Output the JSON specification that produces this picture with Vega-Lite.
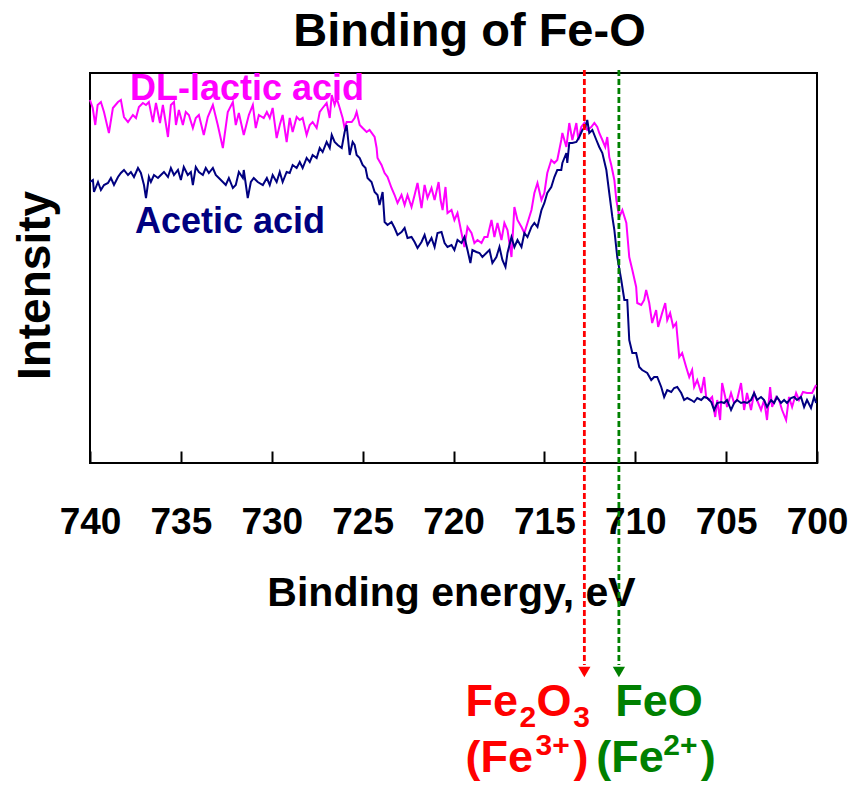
{
  "$schema": "https://vega.github.io/schema/vega-lite/v6.json",
  "width": 727,
  "height": 390,
  "autosize": {"type": "none"},
  "padding": {"left": 90, "top": 73, "right": 36, "bottom": 322},
  "background": "white",
  "config": {
    "font": "Liberation Sans",
    "view": {"stroke": "black", "strokeWidth": 2},
    "axisY": {
      "labels": false,
      "ticks": false,
      "domain": false,
      "grid": false,
      "titleFont": "Liberation Sans",
      "titleFontSize": 46,
      "titleFontWeight": "bold",
      "titleColor": "black",
      "titleX": -41,
      "titleY": 212,
      "titleBaseline": "alphabetic"
    }
  },
  "title": {
    "text": "Binding of Fe-O",
    "font": "Liberation Sans",
    "fontSize": 47,
    "fontWeight": "bold",
    "color": "black",
    "anchor": "middle",
    "frame": "group",
    "baseline": "alphabetic",
    "offset": 28,
    "dx": 16,
    "dy": 52
  },
  "datasets": {
    "lactic": [
      {"energy":740.0,"intensity":36.3},{"energy":739.85,"intensity":35.5},{"energy":739.71,"intensity":33.8},{"energy":739.58,"intensity":35.8},{"energy":739.40,"intensity":36.1},{"energy":739.23,"intensity":35.1},{"energy":738.96,"intensity":33.0},{"energy":738.74,"intensity":35.5},{"energy":738.46,"intensity":36.1},{"energy":738.30,"intensity":36.3},{"energy":738.13,"intensity":34.6},{"energy":737.91,"intensity":34.1},{"energy":737.64,"intensity":34.8},{"energy":737.47,"intensity":34.5},{"energy":737.31,"intensity":35.6},{"energy":737.09,"intensity":36.0},{"energy":736.92,"intensity":35.8},{"energy":736.76,"intensity":36.1},{"energy":736.54,"intensity":34.1},{"energy":736.37,"intensity":36.0},{"energy":736.15,"intensity":34.0},{"energy":735.99,"intensity":35.8},{"energy":735.71,"intensity":32.6},{"energy":735.55,"intensity":35.8},{"energy":735.38,"intensity":36.1},{"energy":735.27,"intensity":33.8},{"energy":735.11,"intensity":35.3},{"energy":734.89,"intensity":33.8},{"energy":734.73,"intensity":35.1},{"energy":734.56,"intensity":34.8},{"energy":734.34,"intensity":33.5},{"energy":734.18,"intensity":34.5},{"energy":734.01,"intensity":34.8},{"energy":733.74,"intensity":32.8},{"energy":733.52,"intensity":34.6},{"energy":733.24,"intensity":35.8},{"energy":732.97,"intensity":33.8},{"energy":732.69,"intensity":31.5},{"energy":732.42,"intensity":35.1},{"energy":732.14,"intensity":36.1},{"energy":731.98,"intensity":33.8},{"energy":731.81,"intensity":35.0},{"energy":731.54,"intensity":32.8},{"energy":731.26,"intensity":34.8},{"energy":731.04,"intensity":35.8},{"energy":730.88,"intensity":33.5},{"energy":730.71,"intensity":34.8},{"energy":730.44,"intensity":34.5},{"energy":730.27,"intensity":35.1},{"energy":730.11,"intensity":34.5},{"energy":729.95,"intensity":35.5},{"energy":729.73,"intensity":32.5},{"energy":729.56,"intensity":33.8},{"energy":729.40,"intensity":34.8},{"energy":729.18,"intensity":32.1},{"energy":729.01,"intensity":34.5},{"energy":728.85,"intensity":33.1},{"energy":728.63,"intensity":34.6},{"energy":728.46,"intensity":34.3},{"energy":728.30,"intensity":34.5},{"energy":728.08,"intensity":32.8},{"energy":727.91,"intensity":33.8},{"energy":727.75,"intensity":34.1},{"energy":727.53,"intensity":33.5},{"energy":727.36,"intensity":35.1},{"energy":727.20,"intensity":35.5},{"energy":726.98,"intensity":36.0},{"energy":726.81,"intensity":34.5},{"energy":726.70,"intensity":36.8},{"energy":726.54,"intensity":35.8},{"energy":726.43,"intensity":36.5},{"energy":726.26,"intensity":35.5},{"energy":726.10,"intensity":34.5},{"energy":725.99,"intensity":33.5},{"energy":725.88,"intensity":34.1},{"energy":725.60,"intensity":34.1},{"energy":725.44,"intensity":34.5},{"energy":725.33,"intensity":35.1},{"energy":725.16,"intensity":33.8},{"energy":725.00,"intensity":33.5},{"energy":724.78,"intensity":33.1},{"energy":724.62,"intensity":33.3},{"energy":724.34,"intensity":32.6},{"energy":724.23,"intensity":31.5},{"energy":724.18,"intensity":30.5},{"energy":723.96,"intensity":29.8},{"energy":723.79,"intensity":29.0},{"energy":723.63,"intensity":28.6},{"energy":723.41,"intensity":27.5},{"energy":723.24,"intensity":26.8},{"energy":723.08,"intensity":26.0},{"energy":722.86,"intensity":26.8},{"energy":722.69,"intensity":25.8},{"energy":722.53,"intensity":26.8},{"energy":722.31,"intensity":25.6},{"energy":722.14,"intensity":26.8},{"energy":721.98,"intensity":28.0},{"energy":721.76,"intensity":25.5},{"energy":721.59,"intensity":27.8},{"energy":721.43,"intensity":26.5},{"energy":721.21,"intensity":27.5},{"energy":721.04,"intensity":26.3},{"energy":720.82,"intensity":28.1},{"energy":720.71,"intensity":26.3},{"energy":720.60,"intensity":25.3},{"energy":720.44,"intensity":27.6},{"energy":720.33,"intensity":25.0},{"energy":720.11,"intensity":25.3},{"energy":719.95,"intensity":24.3},{"energy":719.78,"intensity":25.0},{"energy":719.56,"intensity":23.0},{"energy":719.40,"intensity":21.6},{"energy":719.23,"intensity":23.6},{"energy":719.01,"intensity":23.0},{"energy":718.85,"intensity":22.0},{"energy":718.68,"intensity":22.3},{"energy":718.46,"intensity":22.0},{"energy":718.30,"intensity":22.6},{"energy":718.13,"intensity":22.6},{"energy":717.91,"intensity":24.3},{"energy":717.75,"intensity":22.6},{"energy":717.58,"intensity":24.0},{"energy":717.36,"intensity":22.3},{"energy":717.20,"intensity":24.0},{"energy":717.03,"intensity":23.3},{"energy":716.81,"intensity":20.6},{"energy":716.65,"intensity":25.6},{"energy":716.48,"intensity":24.3},{"energy":716.26,"intensity":23.6},{"energy":716.10,"intensity":23.0},{"energy":715.93,"intensity":24.0},{"energy":715.71,"intensity":25.3},{"energy":715.55,"intensity":27.0},{"energy":715.38,"intensity":28.0},{"energy":715.16,"intensity":26.3},{"energy":715.00,"intensity":27.0},{"energy":714.84,"intensity":29.0},{"energy":714.62,"intensity":30.3},{"energy":714.45,"intensity":30.0},{"energy":714.29,"intensity":30.3},{"energy":714.07,"intensity":32.3},{"energy":714.01,"intensity":33.0},{"energy":713.79,"intensity":31.6},{"energy":713.63,"intensity":34.0},{"energy":713.46,"intensity":32.3},{"energy":713.24,"intensity":34.0},{"energy":713.13,"intensity":32.3},{"energy":712.97,"intensity":33.6},{"energy":712.80,"intensity":34.0},{"energy":712.64,"intensity":33.3},{"energy":712.42,"intensity":33.6},{"energy":712.25,"intensity":34.0},{"energy":712.09,"intensity":33.6},{"energy":711.98,"intensity":33.0},{"energy":711.81,"intensity":32.3},{"energy":711.65,"intensity":31.6},{"energy":711.54,"intensity":32.6},{"energy":711.43,"intensity":30.6},{"energy":711.32,"intensity":29.8},{"energy":711.15,"intensity":28.3},{"energy":711.04,"intensity":26.3},{"energy":710.88,"intensity":24.6},{"energy":710.71,"intensity":25.3},{"energy":710.49,"intensity":24.0},{"energy":710.33,"intensity":20.6},{"energy":710.16,"intensity":19.3},{"energy":709.95,"intensity":17.6},{"energy":709.89,"intensity":16.0},{"energy":709.67,"intensity":15.8},{"energy":709.51,"intensity":16.3},{"energy":709.40,"intensity":17.3},{"energy":709.23,"intensity":16.0},{"energy":709.07,"intensity":14.0},{"energy":708.85,"intensity":15.3},{"energy":708.74,"intensity":13.6},{"energy":708.52,"intensity":15.0},{"energy":708.35,"intensity":16.0},{"energy":708.24,"intensity":14.3},{"energy":708.08,"intensity":15.0},{"energy":707.91,"intensity":13.6},{"energy":707.75,"intensity":14.0},{"energy":707.58,"intensity":10.6},{"energy":707.42,"intensity":11.0},{"energy":707.20,"intensity":9.6},{"energy":707.03,"intensity":8.6},{"energy":706.87,"intensity":9.3},{"energy":706.76,"intensity":7.6},{"energy":706.59,"intensity":8.3},{"energy":706.37,"intensity":7.0},{"energy":706.21,"intensity":8.6},{"energy":706.10,"intensity":6.6},{"energy":705.93,"intensity":6.3},{"energy":705.77,"intensity":6.6},{"energy":705.60,"intensity":4.6},{"energy":705.49,"intensity":6.3},{"energy":705.33,"intensity":4.3},{"energy":705.22,"intensity":8.0},{"energy":705.05,"intensity":6.6},{"energy":704.95,"intensity":5.6},{"energy":704.73,"intensity":7.0},{"energy":704.56,"intensity":6.0},{"energy":704.40,"intensity":6.3},{"energy":704.18,"intensity":8.0},{"energy":704.01,"intensity":5.3},{"energy":703.85,"intensity":7.0},{"energy":703.63,"intensity":5.3},{"energy":703.46,"intensity":7.0},{"energy":703.30,"intensity":6.3},{"energy":703.08,"intensity":5.3},{"energy":702.91,"intensity":6.3},{"energy":702.75,"intensity":4.3},{"energy":702.58,"intensity":7.6},{"energy":702.47,"intensity":5.6},{"energy":702.25,"intensity":6.6},{"energy":702.09,"intensity":6.3},{"energy":701.92,"intensity":5.3},{"energy":701.70,"intensity":4.3},{"energy":701.54,"intensity":6.6},{"energy":701.37,"intensity":5.6},{"energy":701.15,"intensity":7.0},{"energy":700.99,"intensity":6.3},{"energy":700.77,"intensity":7.1},{"energy":700.55,"intensity":7.0},{"energy":700.27,"intensity":7.0},{"energy":700.05,"intensity":7.8}
    ],
    "acetic": [
      {"energy":740.0,"intensity":28.1},{"energy":739.84,"intensity":28.3},{"energy":739.78,"intensity":27.1},{"energy":739.56,"intensity":28.1},{"energy":739.40,"intensity":27.3},{"energy":739.23,"intensity":27.8},{"energy":739.01,"intensity":28.0},{"energy":738.85,"intensity":28.5},{"energy":738.68,"intensity":27.8},{"energy":738.46,"intensity":28.6},{"energy":738.30,"intensity":29.0},{"energy":738.13,"intensity":29.3},{"energy":737.91,"intensity":28.8},{"energy":737.75,"intensity":29.1},{"energy":737.58,"intensity":28.6},{"energy":737.36,"intensity":29.5},{"energy":737.20,"intensity":29.0},{"energy":737.03,"intensity":27.8},{"energy":736.92,"intensity":26.5},{"energy":736.76,"intensity":28.6},{"energy":736.65,"intensity":28.1},{"energy":736.48,"intensity":28.8},{"energy":736.26,"intensity":28.5},{"energy":736.10,"intensity":28.8},{"energy":735.93,"intensity":29.1},{"energy":735.71,"intensity":28.6},{"energy":735.55,"intensity":29.5},{"energy":735.38,"intensity":28.8},{"energy":735.16,"intensity":29.3},{"energy":735.00,"intensity":28.3},{"energy":734.84,"intensity":29.6},{"energy":734.62,"intensity":28.8},{"energy":734.45,"intensity":29.1},{"energy":734.34,"intensity":27.8},{"energy":734.18,"intensity":29.6},{"energy":734.01,"intensity":29.1},{"energy":733.79,"intensity":28.8},{"energy":733.63,"intensity":29.5},{"energy":733.46,"intensity":29.0},{"energy":733.24,"intensity":29.5},{"energy":733.08,"intensity":28.8},{"energy":732.91,"intensity":28.5},{"energy":732.69,"intensity":28.1},{"energy":732.53,"intensity":27.8},{"energy":732.36,"intensity":28.5},{"energy":732.14,"intensity":27.5},{"energy":731.98,"intensity":27.8},{"energy":731.81,"intensity":29.1},{"energy":731.59,"intensity":28.5},{"energy":731.54,"intensity":29.3},{"energy":731.32,"intensity":26.5},{"energy":731.15,"intensity":28.1},{"energy":730.99,"intensity":28.5},{"energy":730.77,"intensity":28.1},{"energy":730.49,"intensity":27.8},{"energy":730.27,"intensity":28.5},{"energy":730.11,"intensity":27.8},{"energy":729.95,"intensity":28.8},{"energy":729.73,"intensity":28.1},{"energy":729.56,"intensity":29.1},{"energy":729.40,"intensity":28.1},{"energy":729.18,"intensity":29.1},{"energy":729.01,"intensity":29.0},{"energy":728.85,"intensity":29.8},{"energy":728.63,"intensity":29.5},{"energy":728.46,"intensity":30.1},{"energy":728.30,"intensity":29.5},{"energy":728.08,"intensity":30.5},{"energy":727.91,"intensity":30.1},{"energy":727.75,"intensity":30.8},{"energy":727.53,"intensity":30.5},{"energy":727.36,"intensity":31.5},{"energy":727.20,"intensity":31.1},{"energy":726.98,"intensity":32.1},{"energy":726.81,"intensity":31.5},{"energy":726.70,"intensity":32.8},{"energy":726.54,"intensity":32.1},{"energy":726.37,"intensity":31.8},{"energy":726.15,"intensity":31.5},{"energy":725.99,"intensity":33.1},{"energy":725.88,"intensity":33.8},{"energy":725.71,"intensity":30.8},{"energy":725.55,"intensity":32.1},{"energy":725.44,"intensity":31.8},{"energy":725.33,"intensity":30.8},{"energy":725.16,"intensity":30.5},{"energy":725.00,"intensity":29.8},{"energy":724.84,"intensity":29.5},{"energy":724.73,"intensity":28.5},{"energy":724.51,"intensity":28.1},{"energy":724.34,"intensity":27.1},{"energy":724.18,"intensity":26.8},{"energy":724.07,"intensity":25.8},{"energy":723.90,"intensity":27.1},{"energy":723.79,"intensity":24.1},{"energy":723.63,"intensity":23.8},{"energy":723.41,"intensity":24.1},{"energy":723.24,"intensity":23.5},{"energy":723.08,"intensity":22.8},{"energy":722.86,"intensity":23.1},{"energy":722.69,"intensity":23.5},{"energy":722.53,"intensity":22.5},{"energy":722.31,"intensity":22.6},{"energy":722.14,"intensity":22.1},{"energy":721.98,"intensity":21.5},{"energy":721.76,"intensity":22.1},{"energy":721.59,"intensity":22.8},{"energy":721.43,"intensity":21.8},{"energy":721.21,"intensity":22.5},{"energy":721.04,"intensity":21.6},{"energy":720.88,"intensity":23.0},{"energy":720.66,"intensity":23.1},{"energy":720.49,"intensity":22.0},{"energy":720.33,"intensity":21.6},{"energy":720.11,"intensity":21.8},{"energy":719.95,"intensity":21.3},{"energy":719.78,"intensity":22.3},{"energy":719.56,"intensity":22.0},{"energy":719.40,"intensity":22.6},{"energy":719.23,"intensity":21.3},{"energy":719.07,"intensity":20.0},{"energy":718.96,"intensity":21.3},{"energy":718.74,"intensity":21.1},{"energy":718.57,"intensity":21.0},{"energy":718.41,"intensity":20.6},{"energy":718.19,"intensity":21.0},{"energy":718.02,"intensity":21.3},{"energy":717.86,"intensity":20.0},{"energy":717.64,"intensity":20.6},{"energy":717.47,"intensity":21.6},{"energy":717.31,"intensity":20.3},{"energy":717.14,"intensity":19.6},{"energy":717.03,"intensity":21.0},{"energy":716.81,"intensity":22.6},{"energy":716.65,"intensity":21.6},{"energy":716.48,"intensity":22.3},{"energy":716.26,"intensity":21.6},{"energy":716.10,"intensity":23.0},{"energy":715.93,"intensity":22.6},{"energy":715.71,"intensity":23.6},{"energy":715.55,"intensity":24.0},{"energy":715.38,"intensity":23.6},{"energy":715.16,"intensity":25.3},{"energy":715.00,"intensity":26.0},{"energy":714.84,"intensity":27.0},{"energy":714.62,"intensity":27.6},{"energy":714.45,"intensity":28.6},{"energy":714.29,"intensity":29.3},{"energy":714.07,"intensity":29.3},{"energy":714.01,"intensity":30.0},{"energy":713.79,"intensity":31.0},{"energy":713.74,"intensity":30.0},{"energy":713.63,"intensity":32.0},{"energy":713.46,"intensity":32.0},{"energy":713.24,"intensity":32.1},{"energy":713.08,"intensity":32.6},{"energy":712.91,"intensity":33.3},{"energy":712.75,"intensity":33.6},{"energy":712.64,"intensity":34.3},{"energy":712.53,"intensity":33.0},{"energy":712.36,"intensity":33.3},{"energy":712.14,"intensity":32.3},{"energy":711.98,"intensity":31.6},{"energy":711.81,"intensity":31.0},{"energy":711.59,"intensity":29.3},{"energy":711.43,"intensity":27.0},{"energy":711.26,"intensity":24.6},{"energy":711.15,"intensity":23.3},{"energy":710.99,"intensity":20.6},{"energy":710.77,"intensity":18.3},{"energy":710.60,"intensity":16.3},{"energy":710.44,"intensity":16.3},{"energy":710.33,"intensity":12.3},{"energy":710.16,"intensity":11.0},{"energy":709.95,"intensity":11.0},{"energy":709.78,"intensity":9.6},{"energy":709.62,"intensity":9.3},{"energy":709.34,"intensity":9.0},{"energy":709.12,"intensity":8.3},{"energy":708.96,"intensity":8.6},{"energy":708.79,"intensity":8.6},{"energy":708.57,"intensity":7.6},{"energy":708.41,"intensity":6.6},{"energy":708.24,"intensity":7.3},{"energy":708.02,"intensity":7.1},{"energy":707.86,"intensity":7.5},{"energy":707.69,"intensity":7.6},{"energy":707.47,"intensity":7.0},{"energy":707.31,"intensity":6.3},{"energy":707.14,"intensity":6.5},{"energy":706.92,"intensity":6.3},{"energy":706.76,"intensity":6.1},{"energy":706.59,"intensity":6.5},{"energy":706.37,"intensity":6.3},{"energy":706.21,"intensity":6.6},{"energy":706.04,"intensity":6.5},{"energy":705.82,"intensity":6.1},{"energy":705.66,"intensity":5.3},{"energy":705.49,"intensity":6.0},{"energy":705.27,"intensity":6.1},{"energy":705.11,"intensity":6.0},{"energy":704.95,"intensity":6.3},{"energy":704.73,"intensity":5.3},{"energy":704.56,"intensity":6.0},{"energy":704.40,"intensity":6.3},{"energy":704.18,"intensity":6.0},{"energy":704.01,"intensity":6.1},{"energy":703.85,"intensity":6.0},{"energy":703.63,"intensity":6.3},{"energy":703.46,"intensity":7.0},{"energy":703.30,"intensity":6.3},{"energy":703.08,"intensity":6.6},{"energy":702.91,"intensity":6.3},{"energy":702.75,"intensity":5.6},{"energy":702.53,"intensity":6.3},{"energy":702.36,"intensity":6.0},{"energy":702.20,"intensity":6.6},{"energy":701.98,"intensity":6.0},{"energy":701.81,"intensity":6.3},{"energy":701.65,"intensity":6.0},{"energy":701.43,"intensity":6.5},{"energy":701.26,"intensity":6.6},{"energy":701.10,"intensity":6.3},{"energy":700.88,"intensity":6.6},{"energy":700.71,"intensity":5.6},{"energy":700.55,"intensity":6.3},{"energy":700.33,"intensity":5.5},{"energy":700.16,"intensity":6.6},{"energy":700.05,"intensity":6.0}
    ],
    "markers": [
      {"compound": "Fe2O3 (Fe3+)", "energy": 712.8},
      {"compound": "FeO (Fe2+)", "energy": 710.9}
    ],
    "seriesLabels": [
      {"label": "DL-lactic acid", "energy": 737.8, "intensity": 36.3},
      {"label": "Acetic acid", "energy": 737.53, "intensity": 23.0}
    ],
    "annotations": [
      {"piece": "Fe", "label": "Fe2O3 (Fe3+)", "role": "main", "energy": 719.34, "intensity": -25.3},
      {"piece": "2", "label": "Fe2O3 (Fe3+)", "role": "sub", "energy": 716.37, "intensity": -26.4},
      {"piece": "O", "label": "Fe2O3 (Fe3+)", "role": "main", "energy": 715.44, "intensity": -25.3},
      {"piece": "3", "label": "Fe2O3 (Fe3+)", "role": "sub", "energy": 713.41, "intensity": -26.4},
      {"piece": "FeO", "label": "FeO (Fe2+)", "role": "main", "energy": 711.10, "intensity": -25.3},
      {"piece": "(Fe", "label": "Fe2O3 (Fe3+)", "role": "main", "energy": 719.34, "intensity": -30.9},
      {"piece": "3+", "label": "Fe2O3 (Fe3+)", "role": "sup", "energy": 715.49, "intensity": -29.2},
      {"piece": ")", "label": "Fe2O3 (Fe3+)", "role": "main", "energy": 713.40, "intensity": -30.9},
      {"piece": "(Fe", "label": "FeO (Fe2+)", "role": "main", "energy": 712.14, "intensity": -30.9},
      {"piece": "2+", "label": "FeO (Fe2+)", "role": "sup", "energy": 708.46, "intensity": -29.2},
      {"piece": ")", "label": "FeO (Fe2+)", "role": "main", "energy": 706.40, "intensity": -30.9}
    ]
  },
  "encoding": {
    "x": {
      "field": "energy",
      "type": "quantitative",
      "scale": {"domain": [700, 740], "reverse": true, "nice": false, "zero": false},
      "axis": {
        "values": [740, 735, 730, 725, 720, 715, 710, 705, 700],
        "format": "d",
        "domain": false,
        "grid": false,
        "ticks": true,
        "tickSize": -12,
        "tickColor": "black",
        "tickWidth": 2,
        "labelFont": "Liberation Sans",
        "labelFontSize": 37,
        "labelFontWeight": "bold",
        "labelColor": "black",
        "labelPadding": 53,
        "labelFlush": false,
        "labelOverlap": false,
        "title": "Binding energy, eV",
        "titleFont": "Liberation Sans",
        "titleFontSize": 41,
        "titleFontWeight": "bold",
        "titleColor": "black",
        "titleX": 361,
        "titleY": 142,
        "titleBaseline": "alphabetic"
      }
    }
  },
  "layer": [
    {
      "data": {"name": "lactic"},
      "mark": {"type": "line", "color": "#FF00FF", "strokeWidth": 2},
      "encoding": {
        "y": {"field": "intensity", "type": "quantitative", "title": "Intensity", "scale": {"domain": [0, 39], "nice": false, "zero": false}}
      }
    },
    {
      "data": {"name": "acetic"},
      "mark": {"type": "line", "color": "#000080", "strokeWidth": 2},
      "encoding": {
        "y": {"field": "intensity", "type": "quantitative", "title": "Intensity", "scale": {"domain": [0, 39], "nice": false, "zero": false}}
      }
    },
    {
      "data": {"name": "markers"},
      "mark": {"type": "rule", "strokeWidth": 2.8, "strokeDash": [6, 3]},
      "encoding": {
        "y": {"datum": 39.3, "type": "quantitative", "title": "Intensity", "scale": {"domain": [0, 39], "nice": false, "zero": false}},
        "y2": {"datum": -20.2},
        "color": {
          "field": "compound",
          "type": "nominal",
          "scale": {"domain": ["DL-lactic acid", "Acetic acid", "Fe2O3 (Fe3+)", "FeO (Fe2+)"], "range": ["#FF00FF", "#000080", "#FF0000", "#008000"]},
          "legend": null
        }
      }
    },
    {
      "data": {"name": "markers"},
      "mark": {"type": "point", "shape": "triangle-down", "filled": true, "size": 150, "opacity": 1},
      "encoding": {
        "y": {"datum": -20.9, "type": "quantitative", "title": "Intensity", "scale": {"domain": [0, 39], "nice": false, "zero": false}},
        "color": {
          "field": "compound",
          "type": "nominal",
          "scale": {"domain": ["DL-lactic acid", "Acetic acid", "Fe2O3 (Fe3+)", "FeO (Fe2+)"], "range": ["#FF00FF", "#000080", "#FF0000", "#008000"]},
          "legend": null
        }
      }
    },
    {
      "data": {"name": "seriesLabels"},
      "mark": {"type": "text", "align": "left", "baseline": "alphabetic", "font": "Liberation Sans", "fontSize": 36, "fontWeight": "bold"},
      "encoding": {
        "y": {"field": "intensity", "type": "quantitative", "title": "Intensity", "scale": {"domain": [0, 39], "nice": false, "zero": false}},
        "text": {"field": "label"},
        "color": {
          "field": "label",
          "type": "nominal",
          "scale": {"domain": ["DL-lactic acid", "Acetic acid", "Fe2O3 (Fe3+)", "FeO (Fe2+)"], "range": ["#FF00FF", "#000080", "#FF0000", "#008000"]},
          "legend": null
        }
      }
    },
    {
      "data": {"name": "annotations"},
      "transform": [{"filter": "datum.role === 'main'"}],
      "mark": {"type": "text", "align": "left", "baseline": "alphabetic", "font": "Liberation Sans", "fontSize": 45, "fontWeight": "bold"},
      "encoding": {
        "y": {"field": "intensity", "type": "quantitative", "title": "Intensity", "scale": {"domain": [0, 39], "nice": false, "zero": false}},
        "text": {"field": "piece"},
        "color": {
          "field": "label",
          "type": "nominal",
          "scale": {"domain": ["DL-lactic acid", "Acetic acid", "Fe2O3 (Fe3+)", "FeO (Fe2+)"], "range": ["#FF00FF", "#000080", "#FF0000", "#006600"]},
          "legend": null
        }
      }
    },
    {
      "data": {"name": "annotations"},
      "transform": [{"filter": "datum.role !== 'main'"}],
      "mark": {"type": "text", "align": "left", "baseline": "alphabetic", "font": "Liberation Sans", "fontSize": 30, "fontWeight": "bold"},
      "encoding": {
        "y": {"field": "intensity", "type": "quantitative", "title": "Intensity", "scale": {"domain": [0, 39], "nice": false, "zero": false}},
        "text": {"field": "piece"},
        "color": {
          "field": "label",
          "type": "nominal",
          "scale": {"domain": ["DL-lactic acid", "Acetic acid", "Fe2O3 (Fe3+)", "FeO (Fe2+)"], "range": ["#FF00FF", "#000080", "#FF0000", "#006600"]},
          "legend": null
        }
      }
    }
  ]
}
